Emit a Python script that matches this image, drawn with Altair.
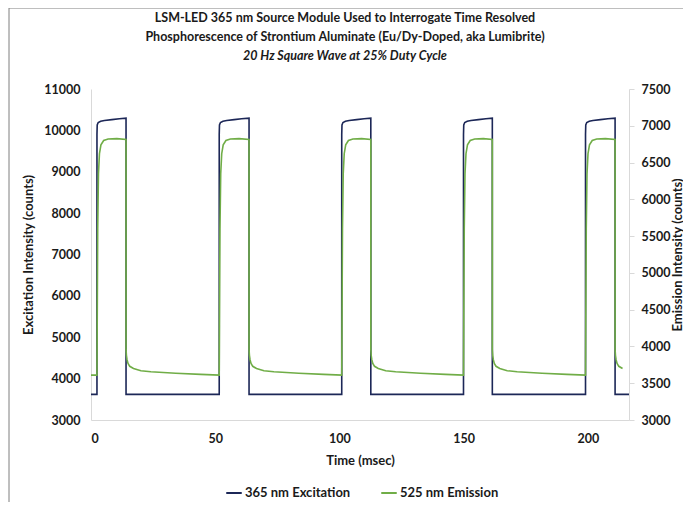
import altair as alt
import pandas as pd

# ---- values ----
series_names = ["365 nm Excitation", "525 nm Emission"]
series_colors = ["#1c2757", "#70ad47"]

pulse_starts = [2.4, 51.6, 100.9, 149.9, 199.0]   # ms, rising edges
pulse_ends = [14.1, 63.6, 112.6, 161.5, 210.9]    # ms, falling edges
t_last = 216.5                                    # ms, end of record

# excitation (left axis, counts)
exc_base = 3620
exc_on_dt = [0.0, 0.1, 0.5, 1.5, 3.0, 6.0, 9.0]
exc_on_val = [9900, 10130, 10190, 10220, 10240, 10260, 10280]
exc_top_end = 10295

# emission (right axis, counts)
em_base = 3610
em_on_dt = [0.1, 0.3, 0.6, 1.0, 1.6, 2.7, 4.5, 8.0]
em_on_val = [4300, 5600, 6350, 6620, 6740, 6800, 6820, 6825]
em_top_end = 6815
em_off_dt = [0.0, 0.15, 0.4, 0.8, 1.5, 3.0, 6.0, 10.0, 20.0, 30.0]
em_off_val = [3960, 3880, 3820, 3770, 3730, 3700, 3670, 3655, 3635, 3620]

x_ticks = [0, 50, 100, 150, 200]
left_ticks = [3000, 4000, 5000, 6000, 7000, 8000, 9000, 10000, 11000]
right_ticks = [3000, 3500, 4000, 4500, 5000, 5500, 6000, 6500, 7000, 7500]

title_lines = ["LSM-LED 365 nm Source Module Used to Interrogate Time Resolved",
               "Phosphorescence of Strontium Aluminate (Eu/Dy-Doped, aka Lumibrite)",
               "20 Hz Square Wave at 25% Duty Cycle"]
title_styles = ["normal", "normal", "italic"]

# ---- assemble tables from the read values ----
exc_t, exc_v = [0.0], [exc_base]
em_t, em_v = [0.0], [em_base]
for k, (s, e) in enumerate(zip(pulse_starts, pulse_ends)):
    nxt = pulse_starts[k + 1] if k + 1 < len(pulse_starts) else t_last
    # excitation
    exc_t.append(s); exc_v.append(exc_base)
    for dt, v in zip(exc_on_dt, exc_on_val):
        exc_t.append(s + dt); exc_v.append(v)
    exc_t.append(e); exc_v.append(exc_top_end)
    exc_t.append(e); exc_v.append(exc_base)
    exc_t.append(nxt); exc_v.append(exc_base)
    # emission
    em_t.append(s); em_v.append(em_base)
    for dt, v in zip(em_on_dt, em_on_val):
        em_t.append(s + dt); em_v.append(v)
    em_t.append(e); em_v.append(em_top_end)
    for dt, v in zip(em_off_dt, em_off_val):
        if e + dt < nxt:
            em_t.append(e + dt); em_v.append(v)
    if nxt < t_last:
        em_t.append(nxt); em_v.append(em_base)

exc_df = pd.DataFrame({"t": exc_t, "v": exc_v, "i": range(len(exc_t)),
                       "series": series_names[0]})
em_df = pd.DataFrame({"t": em_t, "v": em_v, "i": range(len(em_t)),
                      "series": series_names[1]})

FONT = "Lato"
TXT = "#1a1a1a"
GRAY = "#d9d9d9"
W, H = 538, 331
LBL = 12.5
TTL = 13

color = alt.Color("series:N",
                  scale=alt.Scale(domain=series_names, range=series_colors),
                  legend=alt.Legend(title=None, orient="none", legendX=134, legendY=395,
                                    direction="horizontal", symbolType="stroke",
                                    symbolSize=240, symbolStrokeWidth=2,
                                    labelFont=FONT, labelFontSize=13,
                                    labelFontWeight="bold", labelColor=TXT,
                                    columnPadding=26, labelOffset=2))

x_enc = alt.X("t:Q", scale=alt.Scale(domain=[0, t_last], nice=False, zero=False),
              axis=alt.Axis(values=x_ticks, ticks=False, grid=False, format="d",
                            domainColor=GRAY, labelFont=FONT, labelFontSize=LBL,
                            labelFontWeight="bold", labelColor=TXT, labelPadding=12,
                            title="Time (msec)", titleFont=FONT, titleFontSize=TTL,
                            titleFontWeight="bold", titleColor=TXT,
                            titleY=40, titleBaseline="middle"))

exc_line = alt.Chart(exc_df).mark_line(strokeWidth=1.6).encode(
    x=x_enc,
    y=alt.Y("v:Q", scale=alt.Scale(domain=[3000, 11000], nice=False, zero=False),
            axis=alt.Axis(orient="left", values=left_ticks, ticks=False, grid=False,
                          format="d",
                          domainColor=GRAY, labelFont=FONT, labelFontSize=LBL,
                          labelFontWeight="bold", labelColor=TXT, labelPadding=11,
                          title="Excitation Intensity (counts)", titleFont=FONT,
                          titleFontSize=TTL, titleFontWeight="bold", titleColor=TXT,
                          titleAngle=270, titleX=-63, titleY=H / 2,
                          titleAlign="center", titleBaseline="middle")),
    color=color,
    order=alt.Order("i:Q"),
)

em_line = alt.Chart(em_df).mark_line(strokeWidth=1.6).encode(
    x=x_enc,
    y=alt.Y("v:Q", scale=alt.Scale(domain=[3000, 7500], nice=False, zero=False),
            axis=alt.Axis(orient="right", values=right_ticks, ticks=True, tickSize=5,
                          tickColor=GRAY, grid=False, domainColor=GRAY, format="d",
                          labelFont=FONT, labelFontSize=LBL, labelFontWeight="bold",
                          labelColor=TXT, labelPadding=7,
                          title="Emission Intensity (counts)", titleFont=FONT,
                          titleFontSize=TTL, titleFontWeight="bold", titleColor=TXT,
                          titleAngle=270, titleX=48, titleY=H / 2,
                          titleAlign="center", titleBaseline="middle")),
    color=color,
    order=alt.Order("i:Q"),
)

border = alt.Chart(pd.DataFrame({"a": [0]})).mark_rect(
    filled=False, stroke="#7f7f7f", strokeWidth=1
).encode(x=alt.value(-82), x2=alt.value(W + 200), y=alt.value(-81), y2=alt.value(H + 300))

title_y = [-71, -52, -33]
title_layers = []
for txt, sty, ty in zip(title_lines, title_styles, title_y):
    title_layers.append(
        alt.Chart(pd.DataFrame({"a": [0]})).mark_text(
            text=txt, font=FONT, fontSize=12.5, fontWeight="bold", fontStyle=sty,
            color=TXT, align="center", baseline="middle"
        ).encode(x=alt.value(254), y=alt.value(ty))
    )

chart = alt.layer(border, *title_layers, exc_line, em_line).resolve_scale(
    y="independent"
).properties(
    width=W, height=H,
    autosize=alt.AutoSizeParams(type="none"),
    padding={"left": 83, "top": 81, "right": 54, "bottom": 82},
).configure_view(stroke=None)

chart.save("out.html", embed_options={"renderer": "svg", "actions": False})
